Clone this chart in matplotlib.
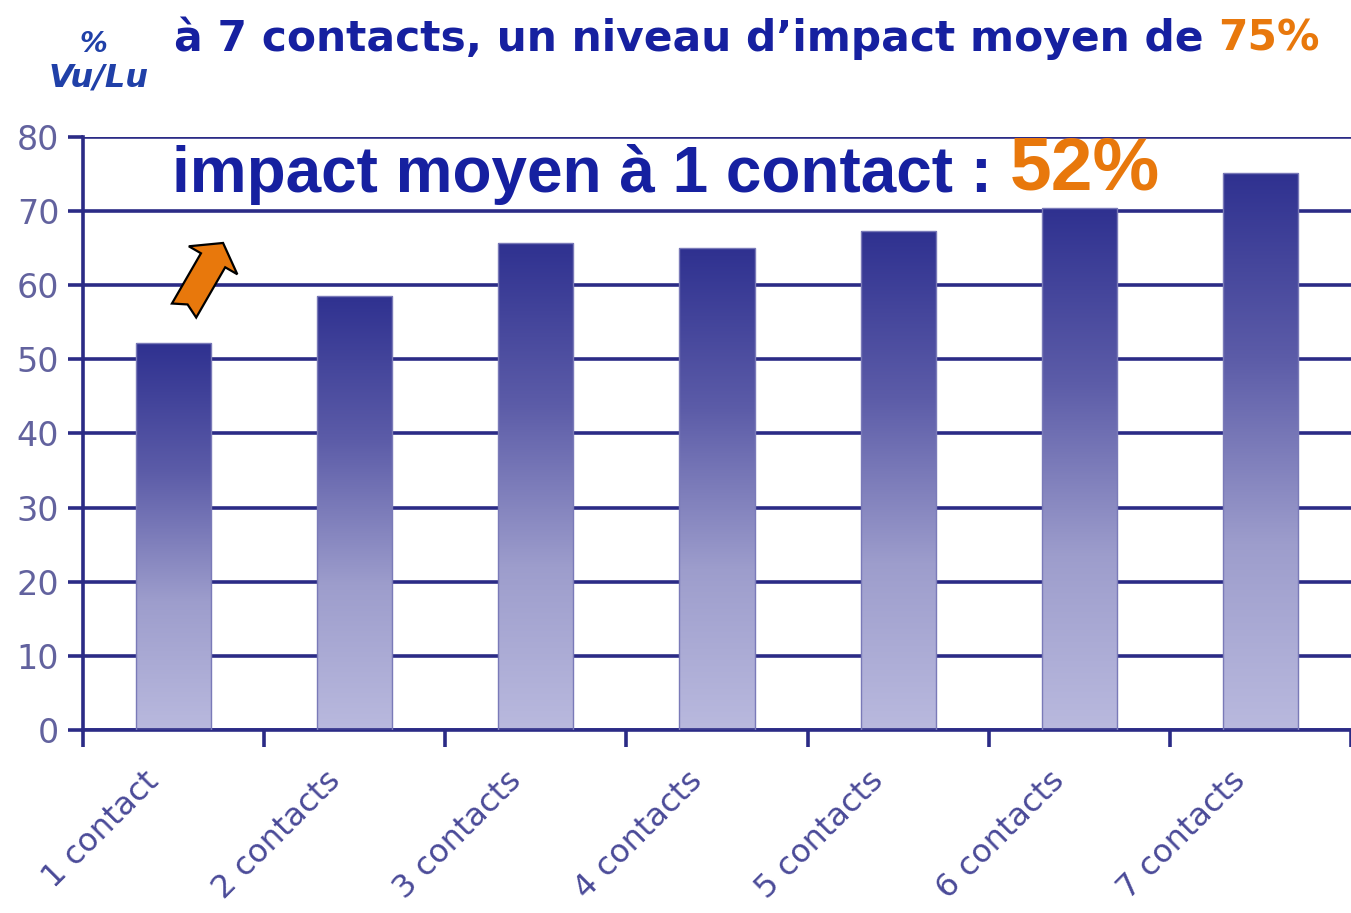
import numpy as np
import matplotlib
matplotlib.use("Agg")
import matplotlib.pyplot as plt
from matplotlib.patches import Polygon
from matplotlib.colors import LinearSegmentedColormap
from matplotlib.transforms import ScaledTranslation

categories = ["1 contact", "2 contacts", "3 contacts", "4 contacts",
              "5 contacts", "6 contacts", "7 contacts"]
values = [52.2, 58.6, 65.7, 65.0, 67.3, 70.4, 75.2]
yticks = [0, 10, 20, 30, 40, 50, 60, 70, 80]

NAVY = "#2b2b86"
TITLE_BLUE = "#1620a0"
ORANGE = "#e8780c"
TICK_COL = "#62629e"

fig = plt.figure(figsize=(13.51, 9.13), dpi=100)
ax = fig.add_axes([0.0614, 0.2004, 0.9386, 0.6496])

x = np.arange(len(categories))
bars = ax.bar(x, values, width=0.415, color="none", edgecolor="#7a7ab8",
              linewidth=1.0, zorder=3)

cmap = LinearSegmentedColormap.from_list("g", ["#b9b9de", "#9d9dcc", "#5c5ca8", "#2f3190"])
grad = np.linspace(0, 1, 256).reshape(-1, 1)
for b in bars:
    x0 = b.get_x()
    w, h = b.get_width(), b.get_height()
    im = ax.imshow(grad, extent=[x0, x0 + w, 0, h], origin="lower",
                   cmap=cmap, aspect="auto", zorder=2.5)
    im.set_clip_path(b)

ax.set_xlim(-0.5, len(categories) - 0.5)
ax.set_ylim(0, 80)
ax.set_yticks(yticks)
ax.set_yticklabels([str(t) for t in yticks], fontsize=24, color=TICK_COL)
ax.yaxis.grid(True, color=NAVY, linewidth=2.6, zorder=1)
ax.set_axisbelow(True)

ax.set_xticks(np.arange(len(categories) + 1) - 0.5)
ax.set_xticklabels([])
ax.set_xticks(x, minor=True)
ax.set_xticklabels(categories, minor=True, rotation=45, ha="right",
                   rotation_mode="anchor", fontsize=23, color="#4a4a98")
ax.tick_params(axis="x", which="minor", length=0, pad=14)
ax.tick_params(axis="x", which="major", length=12, width=2.6, color=NAVY)
ax.tick_params(axis="y", length=11, width=2.6, color=NAVY, pad=6)
shift = ScaledTranslation(-0.30, -0.16, fig.dpi_scale_trans)
for lab in ax.get_xticklabels(minor=True):
    lab.set_transform(lab.get_transform() + shift)

for s in ["top", "right"]:
    ax.spines[s].set_visible(False)
for s in ["left", "bottom"]:
    ax.spines[s].set_color(NAVY)
    ax.spines[s].set_linewidth(2.6)

# Title
t1 = fig.text(0.129, 0.958, "à 7 contacts, un niveau d\u2019impact moyen de ",
              fontsize=30.5, fontweight="bold", color=TITLE_BLUE,
              family="DejaVu Sans", va="center", ha="left")
fig.canvas.draw()
bb = t1.get_window_extent()
fig.text(bb.x1 / fig.bbox.width, 0.958, "75%", fontsize=30.5, fontweight="bold",
         color=ORANGE, family="DejaVu Sans", va="center", ha="left")

fig.text(0.069, 0.952, "%", fontsize=20, fontweight="bold", style="italic",
         color="#2040a8", ha="center", va="center")
fig.text(0.073, 0.915, "Vu/Lu", fontsize=23, fontweight="bold", style="italic",
         color="#2040a8", ha="center", va="center")

# Annotation
t2 = ax.text(-0.01, 74.9, "impact moyen à 1 contact : ", fontsize=46,
             fontweight="bold", color=TITLE_BLUE, family="Liberation Sans",
             va="center", ha="left", zorder=5)
fig.canvas.draw()
bb2 = t2.get_window_extent()
inv = ax.transData.inverted()
xe = inv.transform((bb2.x1, bb2.y0))[0]
ax.text(xe, 75.5, "52%", fontsize=54, fontweight="bold", color=ORANGE,
        family="Liberation Sans", va="center", ha="left", zorder=5)

# Block arrow (notched tail), shape defined in inches relative to its tip
tip = (0.2735, 65.7)
u = np.array([0.5, 0.866])
n = np.array([-u[1], u[0]])
shape = [(0, 0), (-0.20, 0.28), (-0.20, 0.14), (-0.78, 0.14), (-0.71, 0.0),
         (-0.78, -0.14), (-0.20, -0.14), (-0.20, -0.28)]
verts = [a * u + c * n for a, c in shape]
arrow_tr = fig.dpi_scale_trans + ScaledTranslation(tip[0], tip[1], ax.transData)
ax.add_patch(Polygon(verts, closed=True, facecolor=ORANGE, edgecolor="black",
                     linewidth=1.6, joinstyle="miter", transform=arrow_tr, zorder=6))

fig.savefig("out.png", dpi=100)
